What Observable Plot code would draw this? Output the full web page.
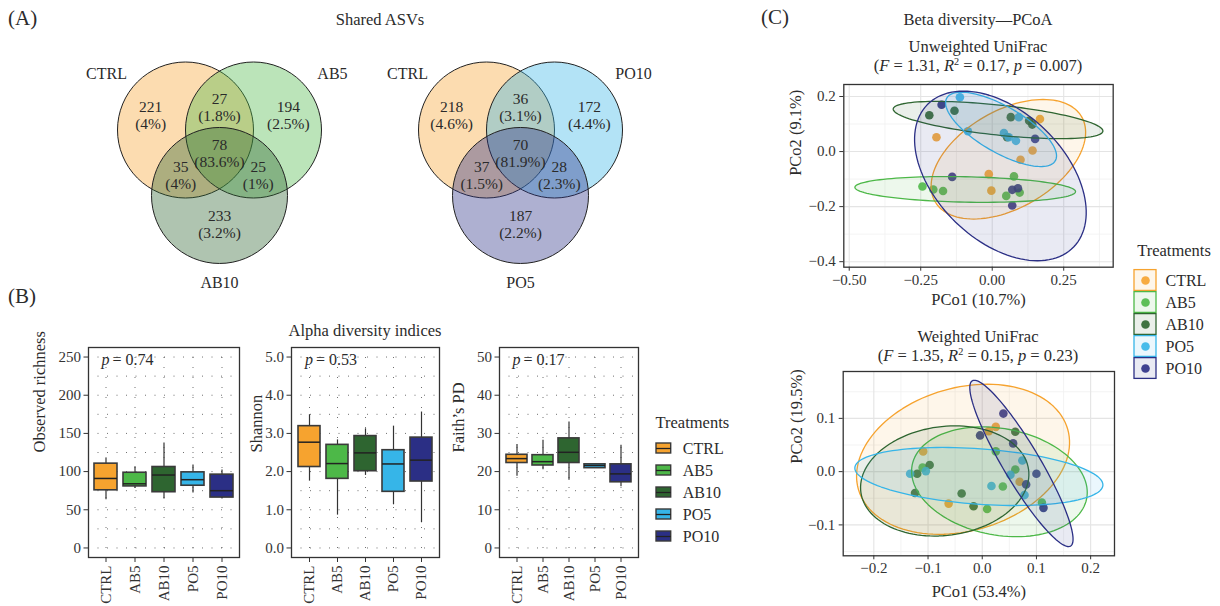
<!DOCTYPE html>
<html><head><meta charset="utf-8">
<script src="https://cdn.jsdelivr.net/npm/d3@7"></script>
<script src="https://cdn.jsdelivr.net/npm/@observablehq/plot@0.6"></script>
<style>
html,body{margin:0;padding:0;background:#fff;}
#root{position:relative;width:1220px;height:606px;overflow:hidden;font-family:"Liberation Serif",serif;color:#2b2b2b;}
sup{font-size:0.62em;vertical-align:0.55em;line-height:0;}
</style></head><body><div id="root"></div>
<script>
// ---------------- DATA ----------------
const treatments = ["CTRL", "AB5", "AB10", "PO5", "PO10"];
const treatmentColors = ["#F6A32F", "#4DB848", "#2E6530", "#36B5E8", "#2B2F85"];

// Venn (A)
const vennLeftSets = ["CTRL", "AB5", "AB10"];
const vennLeftColors = ["#F6A32F", "#4DB848", "#2E6530"];
const vennLeftCounts = [221, 194, 233, 27, 35, 25, 78];
const vennLeftPercents = ["4%", "2.5%", "3.2%", "1.8%", "4%", "1%", "83.6%"];
const vennRightSets = ["CTRL", "PO10", "PO5"];
const vennRightColors = ["#F6A32F", "#36B5E8", "#2B2F85"];
const vennRightCounts = [218, 172, 187, 36, 37, 28, 70];
const vennRightPercents = ["4.6%", "4.4%", "2.2%", "3.1%", "1.5%", "2.3%", "81.9%"];
const vennRegions = [[1,0,0],[0,1,0],[0,0,1],[1,1,0],[1,0,1],[0,1,1],[1,1,1]];
const vennCenters = [[-0.5, 0], [0.5, 0], [0, -0.963]]; // in circle radii

// Alpha diversity (B): whisker low, Q1, median, Q3, whisker high
const richnessLo  = [63, 78, 64, 72, 64];
const richnessQ1  = [75.5, 80.6, 73, 81.5, 66];
const richnessMed = [91, 84, 95.5, 89.4, 75];
const richnessQ3  = [110.4, 98.5, 106, 99, 96];
const richnessHi  = [117, 106.4, 137.5, 108.6, 102];
const shannonLo  = [1.75, 0.86, 1.90, 1.13, 0.66];
const shannonQ1  = [2.12, 1.81, 2.01, 1.47, 1.74];
const shannonMed = [2.77, 2.21, 2.49, 2.20, 2.30];
const shannonQ3  = [3.19, 2.70, 2.93, 2.56, 2.89];
const shannonHi  = [3.49, 2.83, 3.12, 3.19, 3.56];
const faithLo  = [18.8, 20.5, 17.7, 20.9, 16.0];
const faithQ1  = [22.25, 21.6, 22.25, 20.9, 17.2];
const faithMed = [23.4, 22.6, 25.05, 21.6, 19.4];
const faithQ3  = [24.4, 24.3, 28.7, 21.9, 21.9];
const faithHi  = [27.1, 28.2, 33.0, 21.9, 26.9];

// Beta diversity (C) – unweighted UniFrac PCoA points, per treatment
const unwPco1 = [
  [-0.195, 0.167, 0.141, 0.099, -0.012, -0.003],
  [-0.244, -0.206, -0.172, 0.076, 0.049, 0.096],
  [-0.220, -0.132, 0.065, 0.129, 0.140, 0.052],
  [-0.113, -0.085, 0.041, 0.058, 0.083, 0.093],
  [-0.177, 0.150, -0.140, 0.070, 0.090, 0.070]
];
const unwPco2 = [
  [0.052, 0.118, 0.004, -0.030, -0.082, -0.142],
  [-0.127, -0.138, -0.143, -0.090, -0.161, -0.149],
  [0.132, 0.148, 0.125, 0.112, 0.098, 0.052],
  [0.197, 0.074, 0.067, 0.052, 0.039, 0.125],
  [0.170, 0.046, -0.092, -0.139, -0.133, -0.196]
];
// 95% ellipses: centre and conjugate semi-axis vectors (data units)
const unwEllCx = [0.0565, -0.0944, 0.0204, 0.0309, 0.0286];
const unwEllCy = [-0.0279, -0.1376, 0.1145, 0.0806, -0.0885];
const unwEllUx = [0.2564, 0.3858, 0.3666, 0.1898, 0.2561];
const unwEllUy = [0.1539, -0.0079, -0.0406, -0.1139, -0.2582];
const unwEllVx = [0.0851, -0.0009, -0.0056, -0.0402, -0.1565];
const unwEllVy = [-0.1532, -0.0461, -0.0542, -0.0725, -0.1680];

// weighted UniFrac PCoA
const wPco1 = [
  [0.025, 0.012, -0.109, 0.069, -0.062],
  [0.025, 0.061, 0.038, 0.009, 0.110, -0.110],
  [0.061, -0.097, -0.120, -0.124, -0.038, -0.016],
  [-0.133, -0.104, 0.017, 0.052, 0.074, 0.078],
  [0.039, -0.004, 0.057, 0.100, 0.081, 0.113]
];
const wPco2 = [
  [0.084, 0.076, 0.038, -0.019, -0.060],
  [0.038, 0.004, -0.028, -0.070, -0.058, 0.0075],
  [0.075, 0.0125, -0.004, -0.040, -0.041, -0.065],
  [-0.004, 0.001, -0.027, -0.006, 0.021, -0.044],
  [0.109, 0.068, 0.053, -0.004, -0.024, -0.068]
];
const wEllCx = [-0.0354, 0.0317, -0.0692, -0.0062, 0.0723];
const wEllCy = [0.0232, -0.0191, -0.0175, -0.0091, 0.0154];
const wEllUx = [0.1931, 0.1610, 0.1547, 0.2288, 0.0907];
const wEllUy = [0.0564, -0.0313, 0.0213, -0.0166, -0.1551];
const wEllVx = [0.0363, -0.0184, 0.0134, -0.0036, -0.0291];
const wEllVy = [-0.1291, -0.0982, -0.1012, -0.0519, -0.0177];

// ---------------- HELPERS ----------------
const root = document.getElementById("root");
const colorOf = Object.fromEntries(treatments.map((t, i) => [t, treatmentColors[i]]));
const FONT = '"Liberation Serif", "Times New Roman", serif';
const baseStyle = {fontFamily: FONT, fontSize: "15px", color: "#333", background: "transparent", overflow: "visible"};

function place(node, left, top) {
  node.style.position = "absolute";
  node.style.left = left + "px";
  node.style.top = top + "px";
  root.appendChild(node);
}
function label(html, x, y, size, anchor = "middle") {
  const d = document.createElement("div");
  d.innerHTML = html;
  d.style.cssText = `position:absolute;left:${x}px;top:${y}px;font-size:${size}px;white-space:nowrap;line-height:1;color:#2b2b2b;transform:translate(${anchor === "start" ? "0" : "-50%"},-50%);`;
  root.appendChild(d);
}

// ---------------- VENN ----------------
function regionCentroid(member) {
  let sx = 0, sy = 0, n = 0;
  for (let x = -2; x <= 2; x += 0.01) for (let y = -2.2; y <= 1.2; y += 0.01) {
    let ok = true;
    for (let i = 0; i < 3; i++) {
      const [cx, cy] = vennCenters[i];
      const inside = (x - cx) ** 2 + (y - cy) ** 2 < 1;
      if (inside !== (member[i] === 1)) { ok = false; break; }
    }
    if (ok) { sx += x; sy += y; n++; }
  }
  return [sx / n, sy / n];
}
const VENN_PX = 68;
function vennPlot(sets, colors, counts, percents) {
  const W = 280, H = 250, ox = 139, oy = 89.5;
  const circles = sets.map((s, i) => ({set: s, x: vennCenters[i][0], y: vennCenters[i][1], color: colors[i]}));
  const gx = d3.mean(vennCenters, c => c[0]), gy = d3.mean(vennCenters, c => c[1]);
  const regions = vennRegions.map((m, i) => {
    let [x, y] = regionCentroid(m);
    if (d3.sum(m) === 1) x += (x - gx) * 0.12; // single-set labels sit a little further out
    return {x, y, text: `${counts[i]}\n(${percents[i]})`};
  });
  const setLabels = circles.map(c => {
    const dx = c.x - gx, dy = c.y - gy, L = Math.hypot(dx, dy);
    const k = dy > 0 ? 1.38 : 1.2;
    return {text: c.set, x: c.x + k * dx / L, y: c.y + k * dy / L, above: dy > 0};
  });
  return Plot.plot({
    width: W, height: H, margin: 0,
    x: {domain: [-ox / VENN_PX, (W - ox) / VENN_PX], axis: null},
    y: {domain: [-(H - oy) / VENN_PX, oy / VENN_PX], axis: null},
    r: {type: "linear", domain: [0, 1], range: [0, VENN_PX]},
    style: {...baseStyle, fontSize: "15.5px"},
    marks: [
      Plot.dot(circles, {x: "x", y: "y", r: () => 1, fill: "color", fillOpacity: 0.38, stroke: "#222", strokeWidth: 1}),
      Plot.text(regions, {x: "x", y: "y", text: "text", lineHeight: 1.1, fill: "#2a2a2a"}),
      Plot.text(setLabels.filter(d => d.above), {x: "x", y: "y", text: "text", lineAnchor: "bottom", fontSize: 16, fill: "#2a2a2a"}),
      Plot.text(setLabels.filter(d => !d.above), {x: "x", y: "y", text: "text", lineAnchor: "top", fontSize: 16, fill: "#2a2a2a"})
    ]
  });
}

// ---------------- BOXPLOTS ----------------
function boxPanel({lo, q1, med, q3, hi, yDomain, yTicks, gridTicks, yLabel, labelDx, pValue, frameW}) {
  const data = treatments.map((t, i) => ({t, lo: lo[i], q1: q1[i], med: med[i], q3: q3[i], hi: hi[i]}));
  const top = yTicks[yTicks.length - 1];
  return Plot.plot({
    width: 60 + frameW + 4, height: 276,
    marginLeft: 60, marginRight: 4, marginTop: 17, marginBottom: 49,
    x: {type: "band", domain: treatments, padding: 0.2, axis: null},
    y: {domain: yDomain, axis: null},
    style: baseStyle,
    marks: [
      Plot.gridY(gridTicks, {stroke: "#111", strokeOpacity: 0.6, strokeDasharray: "1,8.5"}),
      Plot.gridX(treatments, {stroke: "#111", strokeOpacity: 0.6, strokeDasharray: "1,9"}),
      Plot.ruleX(data, {x: "t", y1: "lo", y2: "hi", stroke: "#333", strokeWidth: 1.2}),
      Plot.barY(data, {x: "t", y1: "q1", y2: "q3", fill: d => colorOf[d.t], stroke: "#3a3a3a", strokeWidth: 1.6}),
      Plot.tickY(data, {x: "t", y: "med", stroke: "#222", strokeWidth: 1.5}),
      Plot.axisY({ticks: yTicks, tickSize: 4.5, tickPadding: 3, label: null, fontSize: 15}),
      Plot.axisX({tickRotate: -90, tickSize: 5, tickPadding: 3, label: null, fontSize: 15}),
      Plot.text([yLabel], {frameAnchor: "left", rotate: -90, dx: labelDx, lineAnchor: "middle", fontSize: 16.5, fill: "#2b2b2b"}),
      Plot.text(["p"], {x: [treatments[0]], y: [top], dx: -4.5, dy: 3, textAnchor: "start", fontStyle: "italic", fontSize: 16, fill: "#2b2b2b"}),
      Plot.text([`= ${pValue}`], {x: [treatments[0]], y: [top], dx: 6.5, dy: 3, textAnchor: "start", fontSize: 16, fill: "#2b2b2b"}),
      Plot.frame({stroke: "#333", strokeWidth: 1.3})
    ]
  });
}

// ---------------- PCoA ----------------
function pcoaPlot(cfg) {
  const pts = [];
  treatments.forEach((t, g) => cfg.xs[g].forEach((x, k) => pts.push({t, x, y: cfg.ys[g][k]})));
  const ell = treatments.map((t, g) => d3.range(0, 120).map(k => {
    const a = 2 * Math.PI * k / 120;
    return {
      x: cfg.cx[g] + cfg.ux[g] * Math.cos(a) + cfg.vx[g] * Math.sin(a),
      y: cfg.cy[g] + cfg.uy[g] * Math.cos(a) + cfg.vy[g] * Math.sin(a)
    };
  }));
  return Plot.plot({
    width: cfg.marginLeft + cfg.frameW + 6, height: 10 + cfg.frameH + 45,
    marginLeft: cfg.marginLeft, marginTop: 10, marginRight: 6, marginBottom: 45,
    x: {domain: cfg.xDomain, axis: null},
    y: {domain: cfg.yDomain, axis: null},
    style: baseStyle,
    marks: [
      Plot.gridX(cfg.xMinor, {stroke: "#f0f0f0", strokeOpacity: 1, strokeWidth: 0.8}),
      Plot.gridY(cfg.yMinor, {stroke: "#f0f0f0", strokeOpacity: 1, strokeWidth: 0.8}),
      Plot.gridX(cfg.xMajor, {stroke: "#e4e4e4", strokeOpacity: 1, strokeWidth: 1.1}),
      Plot.gridY(cfg.yMajor, {stroke: "#e4e4e4", strokeOpacity: 1, strokeWidth: 1.1}),
      Plot.dot(pts, {x: "x", y: "y", r: 4.3, fill: d => colorOf[d.t], fillOpacity: 0.88}),
      ...ell.map((e, g) => Plot.line(e, {x: "x", y: "y", curve: "linear-closed", stroke: treatmentColors[g], strokeWidth: 1.3, fill: treatmentColors[g], fillOpacity: 0.1})),
      Plot.axisX({ticks: cfg.xMajor, tickFormat: d3.format(cfg.xFmt), tickSize: 4, tickPadding: 3, label: null, fontSize: 15}),
      Plot.axisY({ticks: cfg.yMajor, tickFormat: d3.format(cfg.yFmt), tickSize: 4, tickPadding: 4, label: null, fontSize: 15}),
      Plot.text([cfg.xLabel], {frameAnchor: "bottom", dy: cfg.xLabelDy, lineAnchor: "middle", fontSize: 16.5, fill: "#2b2b2b"}),
      Plot.text([cfg.yLabel], {frameAnchor: "left", rotate: -90, dx: cfg.yLabelDx, lineAnchor: "middle", fontSize: 16.5, fill: "#2b2b2b"}),
      Plot.frame({stroke: "#333", strokeWidth: 1.3})
    ]
  });
}

// ---------------- LEGENDS ----------------
function boxLegend() {
  return Plot.plot({
    width: 90, height: 160, margin: 0,
    x: {type: "identity", axis: null},
    y: {type: "band", domain: treatments, range: [35.4, 148.65], padding: 0, axis: null},
    style: baseStyle,
    marks: [
      Plot.text(["Treatments"], {frameAnchor: "top-left", dx: 10, dy: 22, textAnchor: "start", lineAnchor: "middle", fontSize: 16.5, fill: "#2b2b2b"}),
      Plot.ruleX(treatments, {x: 18.3, y: d => d, stroke: "#333", strokeWidth: 1.1, insetTop: 3.5, insetBottom: 3.5}),
      Plot.barX(treatments, {x1: 11, x2: 25.7, y: d => d, fill: d => colorOf[d], stroke: "#3a3a3a", strokeWidth: 1.4, insetTop: 6, insetBottom: 6}),
      Plot.ruleY(treatments, {y: d => d, x1: 11, x2: 25.7, stroke: "#222", strokeWidth: 1.3}),
      Plot.text(treatments, {x: 37.3, y: d => d, text: d => d, textAnchor: "start", fontSize: 16, fill: "#2b2b2b"})
    ]
  });
}
function pointLegend() {
  return Plot.plot({
    width: 96, height: 160, margin: 0,
    x: {type: "identity", axis: null},
    y: {type: "band", domain: treatments, range: [37.75, 150.25], padding: 0, axis: null},
    style: baseStyle,
    marks: [
      Plot.text(["Treatments"], {frameAnchor: "top-left", dx: 12.7, dy: 20, textAnchor: "start", lineAnchor: "middle", fontSize: 16.5, fill: "#2b2b2b"}),
      Plot.barX(treatments, {x1: 10, x2: 32, y: d => d, fill: d => colorOf[d], fillOpacity: 0.1, stroke: d => colorOf[d], strokeWidth: 1.3, insetTop: 0.6, insetBottom: 0.6}),
      Plot.dot(treatments, {x: 21, y: d => d, r: 4.3, fill: d => colorOf[d], fillOpacity: 0.9}),
      Plot.text(treatments, {x: 41, y: d => d, text: d => d, textAnchor: "start", fontSize: 16, fill: "#2b2b2b"})
    ]
  });
}

// ---------------- ASSEMBLY ----------------
label("(A)", 8, 18, 21, "start");
label("Shared ASVs", 380, 20, 16.5);
place(vennPlot(vennLeftSets, vennLeftColors, vennLeftCounts, vennLeftPercents), 80, 40);
place(vennPlot(vennRightSets, vennRightColors, vennRightCounts, vennRightPercents), 381, 40);

label("(B)", 8, 296, 21, "start");
label("Alpha diversity indices", 365, 331, 16.5);
place(boxPanel({lo: richnessLo, q1: richnessQ1, med: richnessMed, q3: richnessQ3, hi: richnessHi,
  yDomain: [-12.5, 262.5], yTicks: [0, 50, 100, 150, 200, 250], gridTicks: d3.range(0, 251, 25),
  yLabel: "Observed richness", labelDx: -48.3, pValue: "0.74", frameW: 151}), 28, 330);
place(boxPanel({lo: shannonLo, q1: shannonQ1, med: shannonMed, q3: shannonQ3, hi: shannonHi,
  yDomain: [-0.25, 5.25], yTicks: [0, 1, 2, 3, 4, 5], gridTicks: d3.range(0, 5.01, 0.5),
  yLabel: "Shannon", labelDx: -35, pValue: "0.53", frameW: 148}), 231, 330);
place(boxPanel({lo: faithLo, q1: faithQ1, med: faithMed, q3: faithQ3, hi: faithHi,
  yDomain: [-2.5, 52.5], yTicks: [0, 10, 20, 30, 40, 50], gridTicks: d3.range(0, 51, 5),
  yLabel: "Faith\u2019s PD", labelDx: -40.7, pValue: "0.17", frameW: 139}), 439, 330);
place(boxLegend(), 645, 400);

label("(C)", 761, 17, 21, "start");
label("Beta diversity\u2014PCoA", 978, 20, 16.5);
label("Unweighted UniFrac", 978, 47, 16.5);
label("(<i>F</i> = 1.31, <i>R</i><sup>2</sup> = 0.17, <i>p</i> = 0.007)", 978, 66, 16.5);
place(pcoaPlot({xs: unwPco1, ys: unwPco2, cx: unwEllCx, cy: unwEllCy, ux: unwEllUx, uy: unwEllUy, vx: unwEllVx, vy: unwEllVy,
  marginLeft: 63.3, frameW: 269.4, frameH: 182.7,
  xDomain: [-0.519, 0.423], yDomain: [-0.42, 0.2436],
  xMajor: [-0.5, -0.25, 0, 0.25], xMinor: [-0.375, -0.125, 0.125, 0.375],
  yMajor: [-0.4, -0.2, 0, 0.2], yMinor: [-0.3, -0.1, 0.1],
  xFmt: ".2f", yFmt: ".1f", xLabel: "PCo1 (10.7%)", yLabel: "PCo2 (9.1%)", xLabelDy: 32.3, yLabelDx: -48.3}), 780, 74);
label("Weighted UniFrac", 978, 337, 16.5);
label("(<i>F</i> = 1.35, <i>R</i><sup>2</sup> = 0.15, <i>p</i> = 0.23)", 978, 356, 16.5);
place(pcoaPlot({xs: wPco1, ys: wPco2, cx: wEllCx, cy: wEllCy, ux: wEllUx, uy: wEllUy, vx: wEllVx, vy: wEllVy,
  marginLeft: 62.7, frameW: 271.3, frameH: 184.3,
  xDomain: [-0.2565, 0.244], yDomain: [-0.158, 0.188],
  xMajor: [-0.2, -0.1, 0, 0.1, 0.2], xMinor: [-0.15, -0.05, 0.05, 0.15],
  yMajor: [-0.1, 0, 0.1], yMinor: [-0.15, -0.05, 0.05, 0.15],
  xFmt: ".1f", yFmt: ".1f", xLabel: "PCo1 (53.4%)", yLabel: "PCo2 (19.5%)", xLabelDy: 35.7, yLabelDx: -46.7}), 780, 360.7);
place(pointLegend(), 1124, 230);
</script></body></html>
